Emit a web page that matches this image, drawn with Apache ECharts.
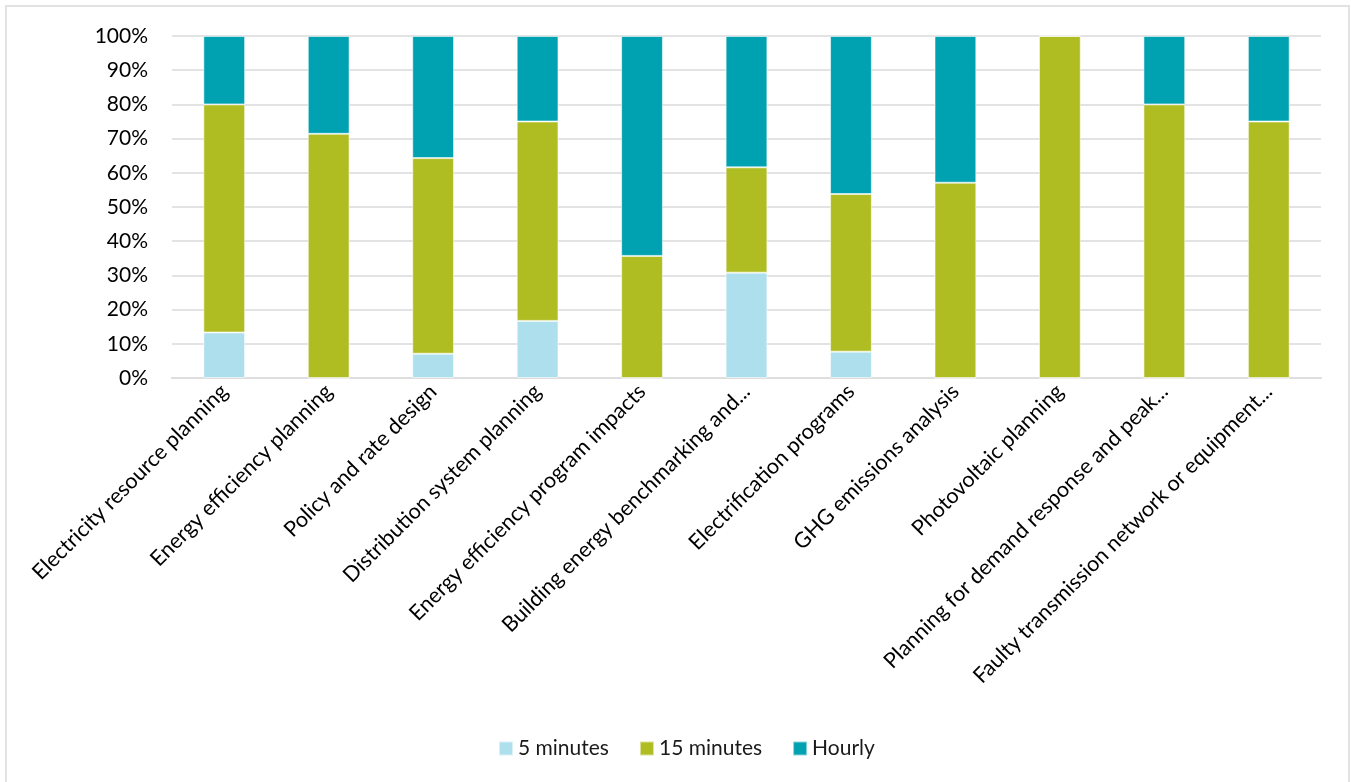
<!DOCTYPE html>
<html>
<head>
<meta charset="utf-8">
<script src="https://cdn.jsdelivr.net/npm/echarts@6/dist/echarts.min.js"></script>
<style>
  html, body { margin: 0; padding: 0; background: #fff; }
  #chart { width: 1351px; height: 782px; }
</style>
</head>
<body>
<div id="chart"></div>
<script>
// Share of use cases by data resolution
const categories = [
  'Electricity resource planning',
  'Energy efficiency planning',
  'Policy and rate design',
  'Distribution system planning',
  'Energy efficiency program impacts',
  'Building energy benchmarking and...',
  'Electrification programs',
  'GHG emissions analysis',
  'Photovoltaic planning',
  'Planning for demand response and peak...',
  'Faulty transmission network or equipment...'
];
const fiveMinutes    = [13.3, 0, 7.1, 16.7, 0, 30.8, 7.7, 0, 0, 0, 0];
const fifteenMinutes = [66.7, 71.4, 57.2, 58.3, 35.7, 30.8, 46.1, 57.1, 100, 80, 75];
const hourly         = [20, 28.6, 35.7, 25, 64.3, 38.4, 46.2, 42.9, 0, 20, 25];
const yTicks = [0, 10, 20, 30, 40, 50, 60, 70, 80, 90, 100];

const FONT = 'Lato, "Open Sans", sans-serif';
const chart = echarts.init(document.getElementById('chart'), null, { renderer: 'canvas' });

function barSeries(name, data, color) {
  return {
    name: name,
    type: 'bar',
    stack: 'total',
    barWidth: '40%',
    data: data,
    itemStyle: { color: color, borderColor: 'rgba(255,255,255,0.55)', borderWidth: 1 },
    emphasis: { disabled: true }
  };
}

chart.setOption({
  animation: false,
  backgroundColor: '#fff',
  graphic: [{
    type: 'rect',
    shape: { x: 6, y: 6, width: 1343, height: 790 },
    style: { fill: 'none', stroke: '#e2e2e2', lineWidth: 2 },
    silent: true,
    z: -1
  }],
  grid: { left: 172, right: 30, top: 36, bottom: 404 },
  legend: {
    bottom: 18,
    left: 493,
    itemWidth: 14,
    itemHeight: 14,
    itemGap: 30,
    icon: 'rect',
    textStyle: { fontFamily: FONT, fontSize: 21, color: '#1a1a1a' },
    data: ['5 minutes', '15 minutes', 'Hourly']
  },
  xAxis: {
    type: 'category',
    data: categories,
    axisLine: { show: true, lineStyle: { color: '#dedede', width: 2 } },
    axisTick: { show: false },
    axisLabel: {
      interval: 0,
      rotate: 45,
      margin: 10,
      fontFamily: FONT,
      fontSize: 21.5,
      color: '#000'
    }
  },
  yAxis: {
    type: 'value',
    min: 0,
    max: 100,
    interval: 10,
    axisLine: { show: false },
    axisTick: { show: false },
    splitLine: { lineStyle: { color: '#e3e3e3', width: 2 } },
    axisLabel: {
      margin: 24,
      fontFamily: FONT,
      fontSize: 21,
      color: '#000',
      formatter: function (v) { return yTicks.indexOf(v) >= 0 ? v + '%' : ''; }
    }
  },
  series: [
    barSeries('5 minutes', fiveMinutes, '#addfec'),
    barSeries('15 minutes', fifteenMinutes, '#afbd22'),
    barSeries('Hourly', hourly, '#00a1b0')
  ]
});
</script>
</body>
</html>
